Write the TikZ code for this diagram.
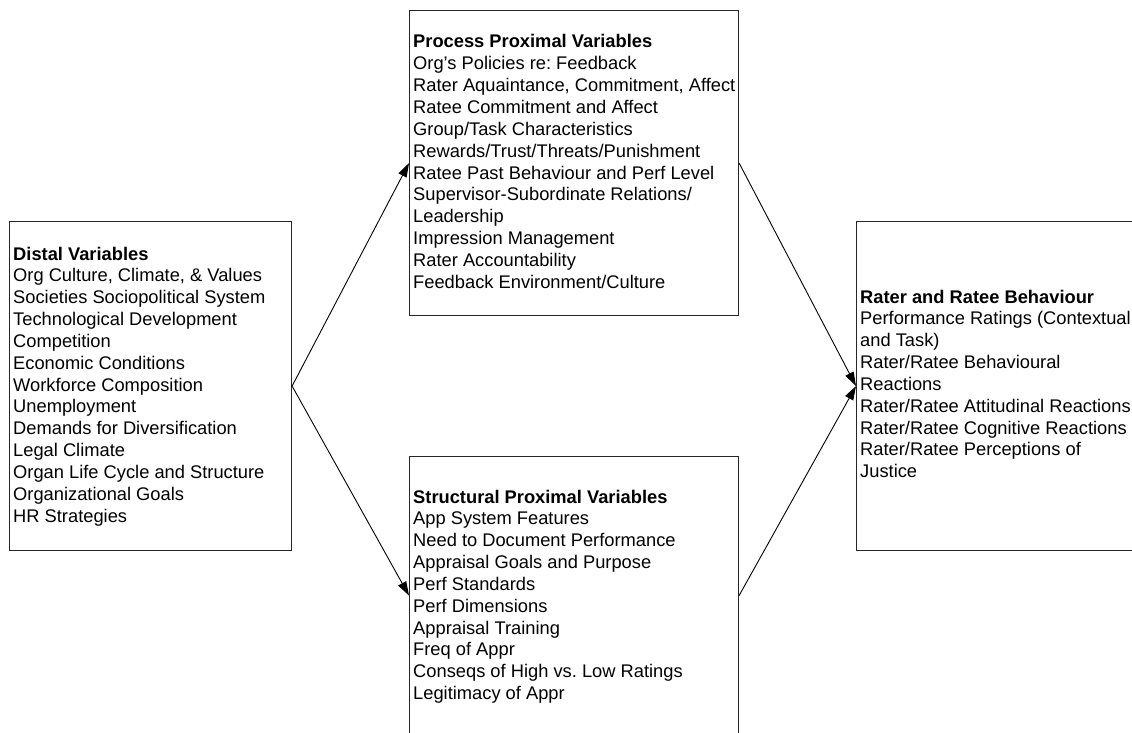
\documentclass[tikz,border=0pt]{standalone}
\usepackage{fontspec}
\setmainfont{Liberation Sans}
\usetikzlibrary{arrows.meta}

% One text block: first baseline sits on the node's base anchor
\newcommand{\varlist}[2]{\parbox[t]{330pt}{\raggedright\frenchspacing\fontsize{18.3}{21.85}\selectfont\textbf{#1}\\#2}}

\tikzset{
  varbox/.style={draw=black!85, line width=1.1pt, fill=none, inner sep=0pt,
                 anchor=north west, rectangle},
  listtext/.style={anchor=base west, inner sep=0pt},
  flow/.style={draw=black, line width=0.9pt, -{Triangle[length=14pt,width=9pt]}}
}

\begin{document}
\begin{tikzpicture}[x=1pt,y=-1pt]
  \useasboundingbox (0,0) rectangle (1132,733);

  % Frames of the four groups of variables
  \node[varbox, minimum width=282pt, minimum height=329pt] (distal) at (9,221) {};
  \node[varbox, minimum width=329pt, minimum height=305pt] (process) at (409,10) {};
  \node[varbox, minimum width=329pt, minimum height=278pt] (structural) at (409,456) {};
  \node[varbox, minimum width=290pt, minimum height=329pt] (rater) at (856,221) {};

  % Contents of each frame
  \node[listtext] (distaltext) at (13,260) {\varlist{Distal Variables}{%
    Org Culture, Climate, \& Values\\
    Societies Sociopolitical System\\
    Technological Development\\
    Competition\\
    Economic Conditions\\
    Workforce Composition\\
    Unemployment\\
    Demands for Diversification\\
    Legal Climate\\
    Organ Life Cycle and Structure\\
    Organizational Goals\\
    HR Strategies}};

  \node[listtext] (processtext) at (413,48) {\varlist{Process Proximal Variables}{%
    Org’s Policies re: Feedback\\
    Rater Aquaintance, Commitment, Affect\\
    Ratee Commitment and Affect\\
    Group/Task Characteristics\\
    Rewards/Trust/Threats/Punishment\\
    Ratee Past Behaviour and Perf Level\\
    Supervisor-Subordinate Relations/\\
    Leadership\\
    Impression Management\\
    Rater Accountability\\
    Feedback Environment/Culture}};

  \node[listtext] (structuraltext) at (413,503) {\varlist{Structural Proximal Variables}{%
    App System Features\\
    Need to Document Performance\\
    Appraisal Goals and Purpose\\
    Perf Standards\\
    Perf Dimensions\\
    Appraisal Training\\
    Freq of Appr\\
    Conseqs of High vs. Low Ratings\\
    Legitimacy of Appr}};

  \node[listtext] (ratertext) at (860,303) {\varlist{Rater and Ratee Behaviour}{%
    Performance Ratings (Contextual\\
    and Task)\\
    Rater/Ratee Behavioural\\
    Reactions\\
    Rater/Ratee Attitudinal Reactions\\
    Rater/Ratee Cognitive Reactions\\
    Rater/Ratee Perceptions of\\
    Justice}};

  % Influence paths
  \draw[flow] (distal.east) -- (process.west);
  \draw[flow] (distal.east) -- (structural.west);
  \draw[flow] (process.east) -- (rater.west);
  \draw[flow] (structural.east) -- (rater.west);
\end{tikzpicture}
\end{document}
